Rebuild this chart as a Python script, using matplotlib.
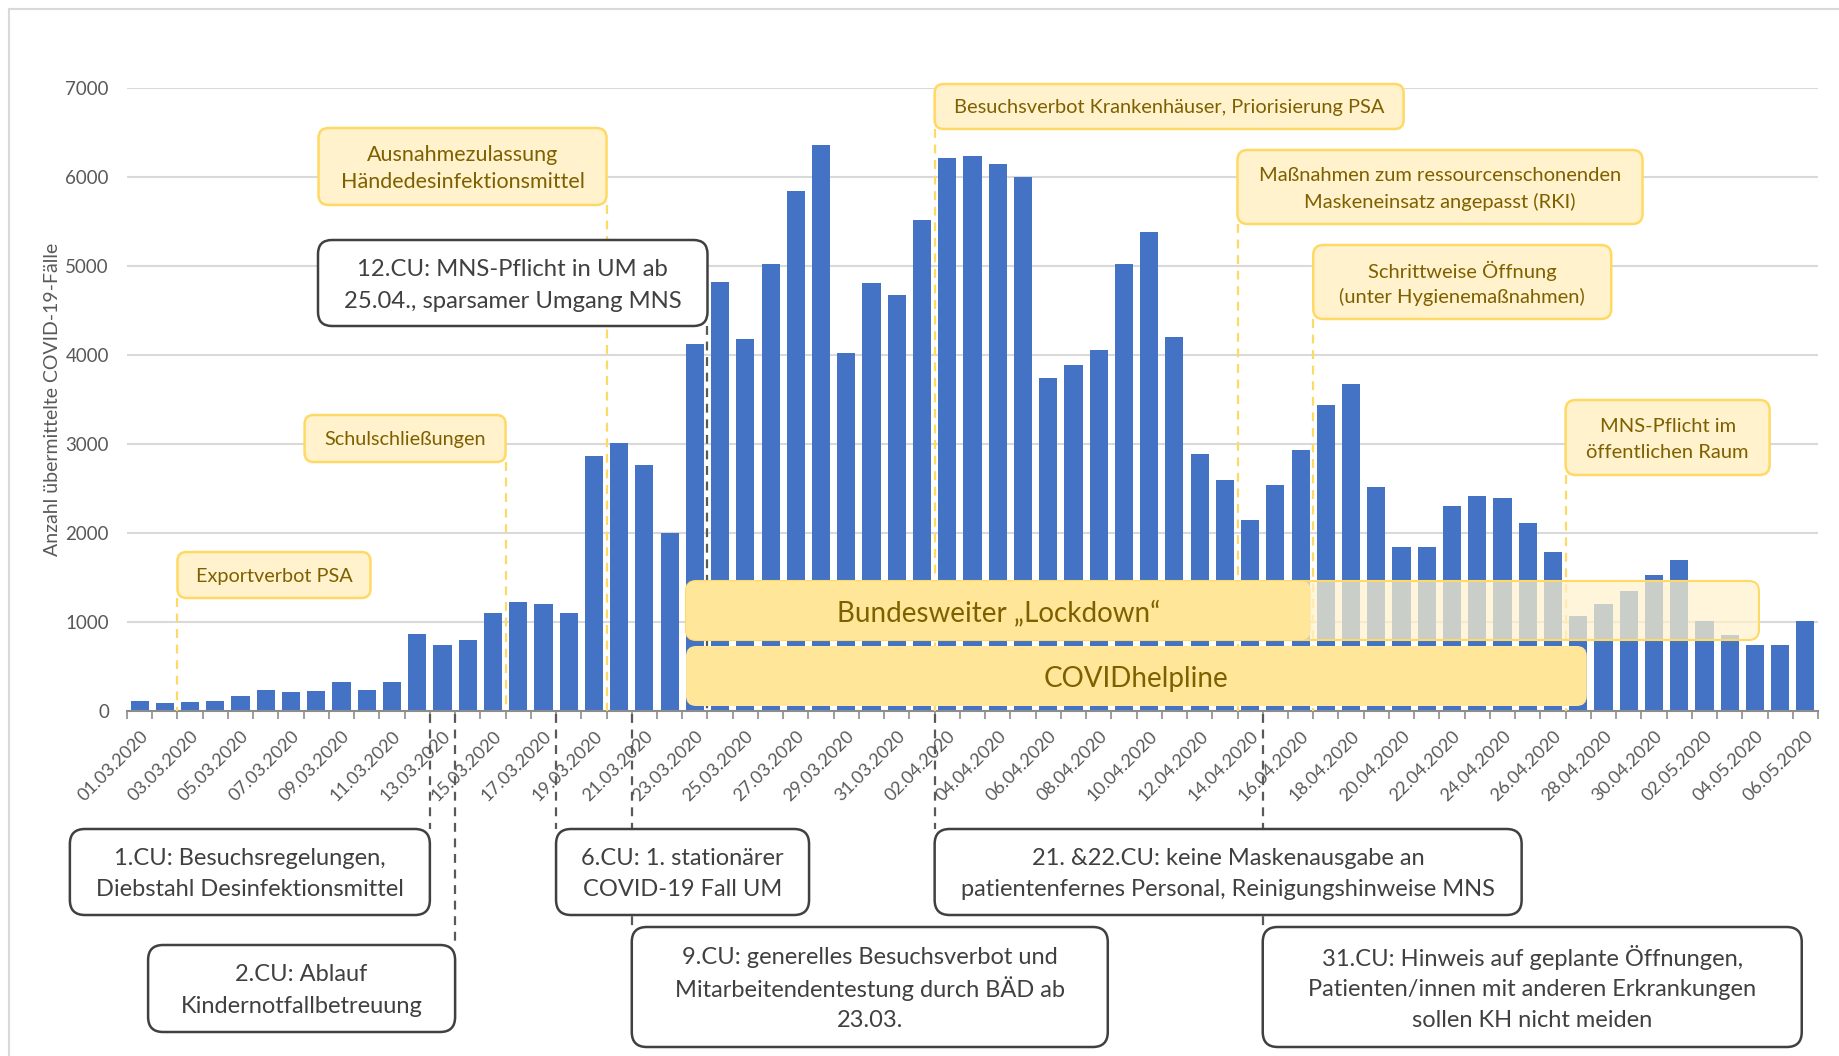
import numpy as np
import pandas as pd
import matplotlib.pyplot as plt
from matplotlib.patches import FancyBboxPatch

W, H = 1839, 1056

# daily values 01.03.2020 - 06.05.2020
dates = pd.date_range('2020-03-01', '2020-05-06').strftime('%d.%m.%Y').tolist()
cases = [113, 90, 99, 113, 170, 241, 208, 222, 326, 241, 326,
         865, 747, 794, 1102, 1224, 1206, 1102, 2861, 3012, 2766, 2005,
         4123, 4818, 4175, 5017, 5839, 6355, 4024, 4804, 4676,
         5513, 6217, 6236, 6147, 5995, 3740, 3891, 4057, 5026, 5381,
         4199, 2884, 2600, 2142, 2539, 2927, 3433, 3669, 2520, 1839,
         1839, 2298, 2411, 2397, 2109, 1792, 1073, 1206, 1352, 1532,
         1697, 1007, 851, 738, 747, 1007]
y_ticks = [0, 1000, 2000, 3000, 4000, 5000, 6000, 7000]
y_label = 'Anzahl übermittelte COVID-19-Fälle'

BLUE = '#4472C4'
GRAY_TXT = '#595959'
DARK = '#404040'
Y_FILL = '#FFF2CC'
Y_EDGE = '#FFD966'
Y_SOLID = '#FFE699'
Y_TXT = '#7F6000'

plt.rcParams['font.family'] = ['Lato', 'DejaVu Sans']

fig = plt.figure(figsize=(W / 100, H / 100), dpi=100)
ax = fig.add_axes([127 / W, 1 - 711 / H, (1818 - 127) / W, (711 - 88) / H])

x = np.arange(len(cases))
ax.bar(x, cases, width=0.72, color=BLUE, zorder=2)
ax.set_xlim(-0.5, len(cases) - 0.5)
ax.set_ylim(0, 7000)
ax.set_yticks(y_ticks)
ax.set_yticklabels([str(v) for v in y_ticks], fontsize=13.5, color=GRAY_TXT)
ax.tick_params(axis='y', length=0, pad=13)
ax.yaxis.grid(True, color='#d9d9d9', lw=1.5)
ax.set_axisbelow(True)

ax.set_xticks(x[::2])
ax.set_xticklabels(dates[::2], rotation=45, ha='right', rotation_mode='anchor',
                   fontsize=13, color=GRAY_TXT)
ax.set_xticks(np.arange(-0.5, len(cases), 1), minor=True)
ax.tick_params(axis='x', which='major', length=0, pad=12)
ax.tick_params(axis='x', which='minor', length=6, color='#8c8c8c', width=1.2)
for s in ['top', 'right', 'left']:
    ax.spines[s].set_visible(False)
ax.spines['bottom'].set_color('#8c8c8c')
ax.spines['bottom'].set_linewidth(1.5)

ax.set_ylabel(y_label, fontsize=14, color=GRAY_TXT)
ax.yaxis.set_label_coords(-0.039, 0.5)

# overlay in pixel coordinates for annotations
ov = fig.add_axes([0, 0, 1, 1], facecolor='none')
ov.set_xlim(0, W)
ov.set_ylim(H, 0)
ov.axis('off')


def xp(i):
    return ax.transData.transform((i, 0))[0]


y_axis = H - ax.transData.transform((0, 0))[1]

ov.plot([9, 9], [9, H], color='#d9d9d9', lw=1.5)
ov.plot([9, W], [9, 9], color='#d9d9d9', lw=1.5)


def box(x0, x1, y0, y1, text, fc, ec, tc, fs, r, lw=1.8, z=4, pitch=26):
    p = FancyBboxPatch((x0, y0), x1 - x0, y1 - y0,
                       boxstyle=f'round,pad=0,rounding_size={r}',
                       fc=fc, ec=ec, lw=lw, zorder=z)
    ov.add_patch(p)
    if not text:
        return
    # one text per line so the line pitch stays even
    lines = text.split('\n')
    cy = (y0 + y1) / 2
    for k, line in enumerate(lines):
        ty = cy + (k - (len(lines) - 1) / 2) * pitch
        ov.text((x0 + x1) / 2, ty, line, ha='center', va='center_baseline',
                color=tc, fontsize=fs, zorder=z + 1)


def vline(i, ya, yb, color, z=3):
    ov.plot([xp(i), xp(i)], [ya, yb], color=color, lw=1.6,
            ls=(0, (4, 3)), zorder=z)


# yellow measures (box left/right edge on the dashed line)
vline(1.5, 598, y_axis, Y_EDGE)
box(xp(1.5), xp(1.5) + 193, 552, 598, 'Exportverbot PSA', Y_FILL, Y_EDGE, Y_TXT, 14.3, 9)

vline(14.5, 462, y_axis, Y_EDGE)
box(xp(14.5) - 201, xp(14.5), 415, 462, 'Schulschließungen', Y_FILL, Y_EDGE, Y_TXT, 14.3, 9)

vline(18.5, 205, y_axis, Y_EDGE)
box(xp(18.5) - 288, xp(18.5), 128, 205, 'Ausnahmezulassung\nHändedesinfektionsmittel',
    Y_FILL, Y_EDGE, Y_TXT, 15.5, 10, pitch=27)

vline(31.5, 129, y_axis, Y_EDGE)
box(xp(31.5), xp(31.5) + 469, 84, 129, 'Besuchsverbot Krankenhäuser, Priorisierung PSA',
    Y_FILL, Y_EDGE, Y_TXT, 14.4, 9)

vline(43.5, 224, y_axis, Y_EDGE)
box(xp(43.5), xp(43.5) + 405, 150, 224, 'Maßnahmen zum ressourcenschonenden\nMaskeneinsatz angepasst (RKI)',
    Y_FILL, Y_EDGE, Y_TXT, 14.5, 10)

vline(46.5, 319, y_axis, Y_EDGE)
box(xp(46.5), xp(46.5) + 298, 245, 319, 'Schrittweise Öffnung\n(unter Hygienemaßnahmen)',
    Y_FILL, Y_EDGE, Y_TXT, 14.5, 10)

vline(56.5, 475, y_axis, Y_EDGE)
box(xp(56.5), xp(56.5) + 204, 400, 475, 'MNS-Pflicht im\nöffentlichen Raum',
    Y_FILL, Y_EDGE, Y_TXT, 14.5, 10)

# lockdown / helpline bands
box(xp(21.65), xp(64.16), 581, 640, '', (1, 0.949, 0.8, 0.72), Y_EDGE, Y_TXT, 20, 10, lw=1.5)
box(xp(21.65), xp(46.4), 581, 640, 'Bundesweiter „Lockdown“', Y_SOLID, 'none', Y_TXT, 20, 10, z=5)
box(xp(21.65), xp(57.34), 646, 706, 'COVIDhelpline', Y_SOLID, 'none', Y_TXT, 20, 10)

# crisis unit boxes
vline(22.5, 326, y_axis, GRAY_TXT)
box(318, xp(22.5), 240, 326, '12.CU: MNS-Pflicht in UM ab\n25.04., sparsamer Umgang MNS',
    'white', DARK, DARK, 17.2, 14, lw=1.8, pitch=32)

below = [
    (11.5, 'right', 360, 829, 915, '1.CU: Besuchsregelungen,\nDiebstahl Desinfektionsmittel'),
    (12.5, 'right', 307, 945, 1032, '2.CU: Ablauf\nKindernotfallbetreuung'),
    (16.5, 'left', 253, 829, 915, '6.CU: 1. stationärer\nCOVID-19 Fall UM'),
    (19.5, 'left', 476, 927, 1047, '9.CU: generelles Besuchsverbot und\nMitarbeitendentestung durch BÄD ab\n23.03.'),
    (31.5, 'left', 587, 829, 915, '21. &22.CU: keine Maskenausgabe an\npatientenfernes Personal, Reinigungshinweise MNS'),
    (44.5, 'left', 539, 927, 1047, '31.CU: Hinweis auf geplante Öffnungen,\nPatienten/innen mit anderen Erkrankungen\nsollen KH nicht meiden'),
]
for i, side, w, y0, y1, txt in below:
    vline(i, y_axis + 3, y0, GRAY_TXT, z=2)
    x0 = xp(i) - w if side == 'right' else xp(i)
    box(x0, x0 + w, y0, y1, txt, 'white', DARK, DARK, 17, 15, lw=1.8, pitch=31.5)

fig.savefig('out.png', dpi=100)
